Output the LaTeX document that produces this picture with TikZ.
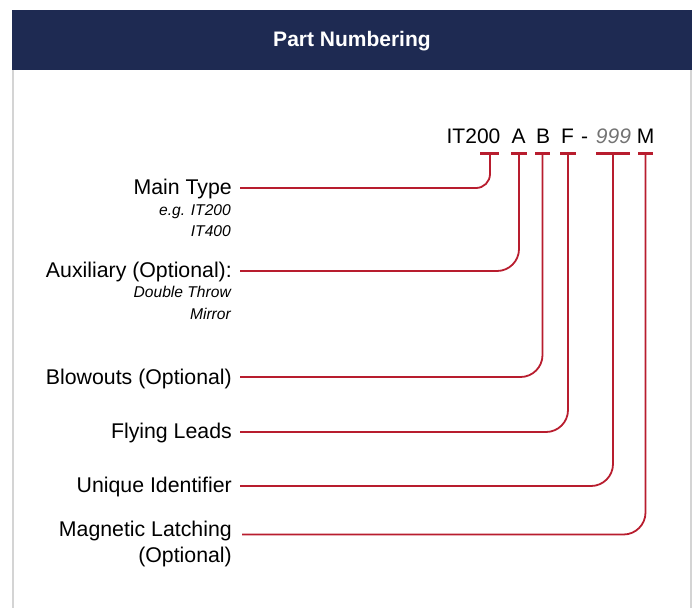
\documentclass[tikz,border=0pt]{standalone}
\usepackage{fontspec}
\setmainfont{Liberation Sans}
\usetikzlibrary{positioning,calc}
\definecolor{navy}{HTML}{1E2A52}
\definecolor{pnred}{HTML}{B81D2E}
\definecolor{rim}{HTML}{D4D4D4}
\definecolor{digit}{HTML}{737373}

\begin{document}
\begin{tikzpicture}[x=1pt, y=-1pt,
    lbl/.style={anchor=base east, inner xsep=8pt, inner ysep=0pt, font=\fontsize{21.3}{25}\selectfont},
    sublbl/.style={anchor=base east, inner xsep=9pt, inner ysep=0pt, font=\fontsize{15.6}{18}\selectfont\itshape},
    code/.style={anchor=base, inner sep=0pt, font=\fontsize{21}{25}\selectfont},
    bar/.style={pnred, line width=3pt},
    conn/.style={pnred, line width=1.8pt, rounded corners=22pt}]
    \useasboundingbox (0,0) rectangle (700,608);
    % panel and header
    \draw[rim, line width=2pt] (13,70) -- (13,608) (691,70) -- (691,608);
    \fill[navy] (12,10) rectangle (692,70);
    \node[text=white, font=\fontsize{21}{25}\selectfont\bfseries] (title) at (352,41) {Part Numbering};

    % part number
    \node[code] (p200) at (473.5,143) {IT200};
    \node[code] (pA) at (518.5,143) {A};
    \node[code] (pB) at (543,143) {B};
    \node[code] (pF) at (567.5,143) {F};
    \node[code] (pdash) at (584.5,143) {-};
    \node[code, text=digit, font=\fontsize{21}{25}\selectfont\itshape] (p999) at (613.5,143) {999};
    \node[code] (pM) at (645.5,143) {M};

    \coordinate (t200) at (490,153); \coordinate (tA) at (519,153); \coordinate (tB) at (542.5,153);
    \coordinate (tF) at (568,153); \coordinate (t999) at (613,153); \coordinate (tM) at (645.5,153);
    \draw[bar] (480,153) -- (499,153); \draw[bar] (511,153) -- (527,153); \draw[bar] (535,153) -- (550,153);
    \draw[bar] (560,153) -- (576,153); \draw[bar] (596,153) -- (630,153); \draw[bar] (638,153) -- (653,153);

    % line ends
    \coordinate (eMain) at (240,188); \coordinate (eAux) at (240,271); \coordinate (eBlow) at (240,377);
    \coordinate (eLead) at (240,432); \coordinate (eUid) at (240,486); \coordinate (eMag) at (242,534.5);

    % labels
    \node[lbl] (lMain) at ($(eMain)+(0,6.6)$) {Main Type};
    \node[sublbl] (lMainA) at (240,215.6) {e.g. IT200};
    \node[sublbl] (lMainB) at (240,236.6) {IT400};
    \node[lbl] (lAux) at ($(eAux)+(0,6.6)$) {Auxiliary (Optional):};
    \node[sublbl] (lAuxA) at (240,297.6) {Double Throw};
    \node[sublbl] (lAuxB) at (240,319.6) {Mirror};
    \node[lbl] (lBlow) at ($(eBlow)+(0,7.6)$) {Blowouts (Optional)};
    \node[lbl] (lLead) at ($(eLead)+(0,6.6)$) {Flying Leads};
    \node[lbl] (lUid) at ($(eUid)+(0,6.6)$) {Unique Identifier};
    \node[lbl] (lMag) at (240,536.6) {Magnetic Latching};
    \node[lbl] (lMagB) at (240,562.6) {(Optional)};

    % connectors
    \draw[conn, rounded corners=14pt] (t200) |- (eMain);
    \draw[conn] (tA) |- (eAux);
    \draw[conn] (tB) |- (eBlow);
    \draw[conn] (tF) |- (eLead);
    \draw[conn] (t999) |- (eUid);
    \draw[conn] (tM) |- (eMag);
\end{tikzpicture}
\end{document}
